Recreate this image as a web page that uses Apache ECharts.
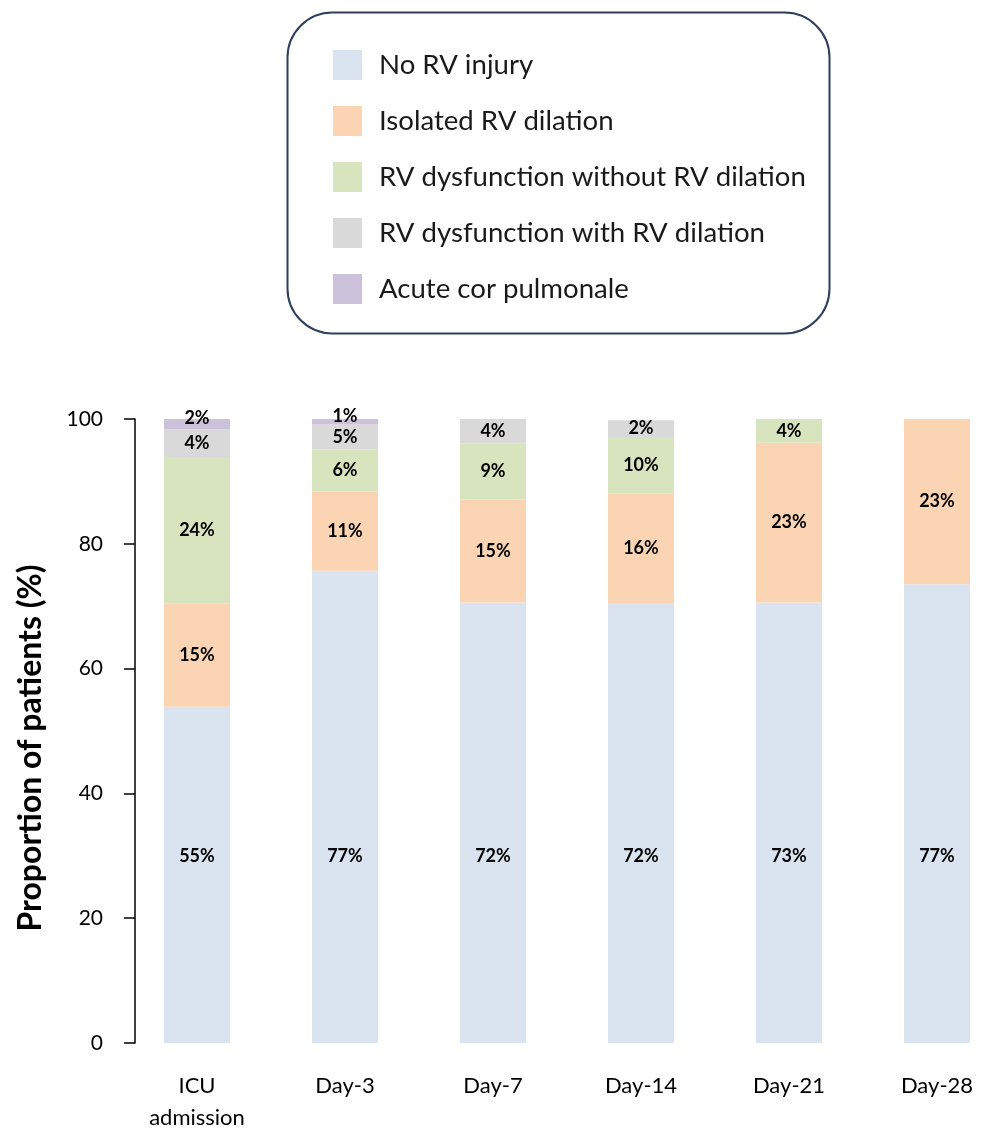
<!DOCTYPE html>
<html>
<head>
<meta charset="utf-8">
<script src="https://cdn.jsdelivr.net/npm/echarts@6/dist/echarts.min.js"></script>
<style>
html,body{margin:0;padding:0;background:#fff;}
#chart{width:985px;height:1131px;}
</style>
</head>
<body>
<div id="chart"></div>
<script>
var categories = ['ICU\nadmission', 'Day-3', 'Day-7', 'Day-14', 'Day-21', 'Day-28'];
var seriesNames = ['No RV injury', 'Isolated RV dilation', 'RV dysfunction without RV dilation', 'RV dysfunction with RV dilation', 'Acute cor pulmonale'];

var noInjury       = [53.9, 75.7, 70.6, 70.5, 70.6, 73.5];
var isolatedDil    = [16.5, 12.7, 16.5, 17.6, 25.6, 26.5];
var dysfNoDil      = [23.5, 6.7, 9.0, 9.0, 3.8, null];
var dysfWithDil    = [4.4, 4.0, 3.9, 2.7, null, null];
var acuteCor       = [1.7, 0.9, null, null, null, null];

var noInjuryLbl    = ['55%', '77%', '72%', '72%', '73%', '77%'];
var isolatedDilLbl = ['15%', '11%', '15%', '16%', '23%', '23%'];
var dysfNoDilLbl   = ['24%', '6%', '9%', '10%', '4%', ''];
var dysfWithDilLbl = ['4%', '5%', '4%', '2%', '', ''];
var acuteCorLbl    = ['2%', '1%', '', '', '', ''];

var yTicks = [0, 20, 40, 60, 80, 100];

var colors = ['#DAE3F0', '#FBD4B4', '#D8E4BD', '#D9D9D9', '#CCC1DA'];
var FONT = 'Lato, "Open Sans", sans-serif';

var values = [noInjury, isolatedDil, dysfNoDil, dysfWithDil, acuteCor];
var labels = [noInjuryLbl, isolatedDilLbl, dysfNoDilLbl, dysfWithDilLbl, acuteCorLbl];

var chart = echarts.init(document.getElementById('chart'), null, {renderer: 'canvas'});

var series = values.map(function (vals, si) {
  var lbl = {
    show: true,
    position: 'inside',
    color: '#000',
    fontFamily: FONT,
    fontWeight: 'bold',
    fontSize: 18,
    formatter: function (p) { return labels[si][p.dataIndex]; }
  };
  if (si === 0) { lbl.position = 'insideBottom'; lbl.distance = 178; }
  if (si === 4) { lbl.offset = [0, -6]; }
  return {
    name: seriesNames[si],
    type: 'bar',
    stack: 'total',
    barWidth: 66,
    clip: false,
    data: vals,
    itemStyle: {color: colors[si]},
    label: lbl,
    emphasis: {disabled: true}
  };
});

var option = {
  animation: false,
  backgroundColor: '#fff',
  color: colors,
  graphic: [{
    type: 'rect',
    left: 285, top: 10,
    shape: {width: 542, height: 321, r: 45},
    style: {fill: 'none', stroke: '#2F3F5C', lineWidth: 2},
    z: 0
  }],
  legend: {
    orient: 'vertical',
    left: 333, top: 50,
    padding: 0,
    itemWidth: 29,
    itemHeight: 30,
    itemGap: 26,
    icon: 'rect',
    selectedMode: false,
    data: seriesNames,
    textStyle: {
      fontFamily: FONT,
      fontSize: 27.6,
      color: '#1a1a1a',
      padding: [0, 0, 0, 12]
    }
  },
  grid: {left: 197, top: 419, right: 48, height: 624, containLabel: false, outerBoundsMode: 'none'},
  xAxis: {
    type: 'category',
    data: categories,
    boundaryGap: false,
    axisLine: {show: false},
    axisTick: {show: false},
    axisLabel: {
      color: '#000', fontFamily: FONT, fontSize: 22, lineHeight: 32, margin: 27
    }
  },
  yAxis: {
    type: 'value',
    min: 0, max: 100, interval: 20,
    offset: 62,
    name: 'Proportion of patients (%)',
    nameLocation: 'middle',
    nameGap: 88,
    nameTextStyle: {color: '#000', fontFamily: FONT, fontWeight: 'bold', fontSize: 32, padding: [0, 34, 0, 0]},
    axisLine: {show: true, lineStyle: {color: '#000', width: 1.5}},
    axisTick: {show: true, inside: false, length: 11, lineStyle: {color: '#000', width: 1.5}},
    splitLine: {show: false},
    axisLabel: {
      color: '#000', fontFamily: FONT, fontSize: 21, margin: 32,
      formatter: function (v) { return yTicks.indexOf(v) >= 0 ? String(v) : ''; }
    }
  },
  series: series
};
chart.setOption(option);
</script>
</body>
</html>
